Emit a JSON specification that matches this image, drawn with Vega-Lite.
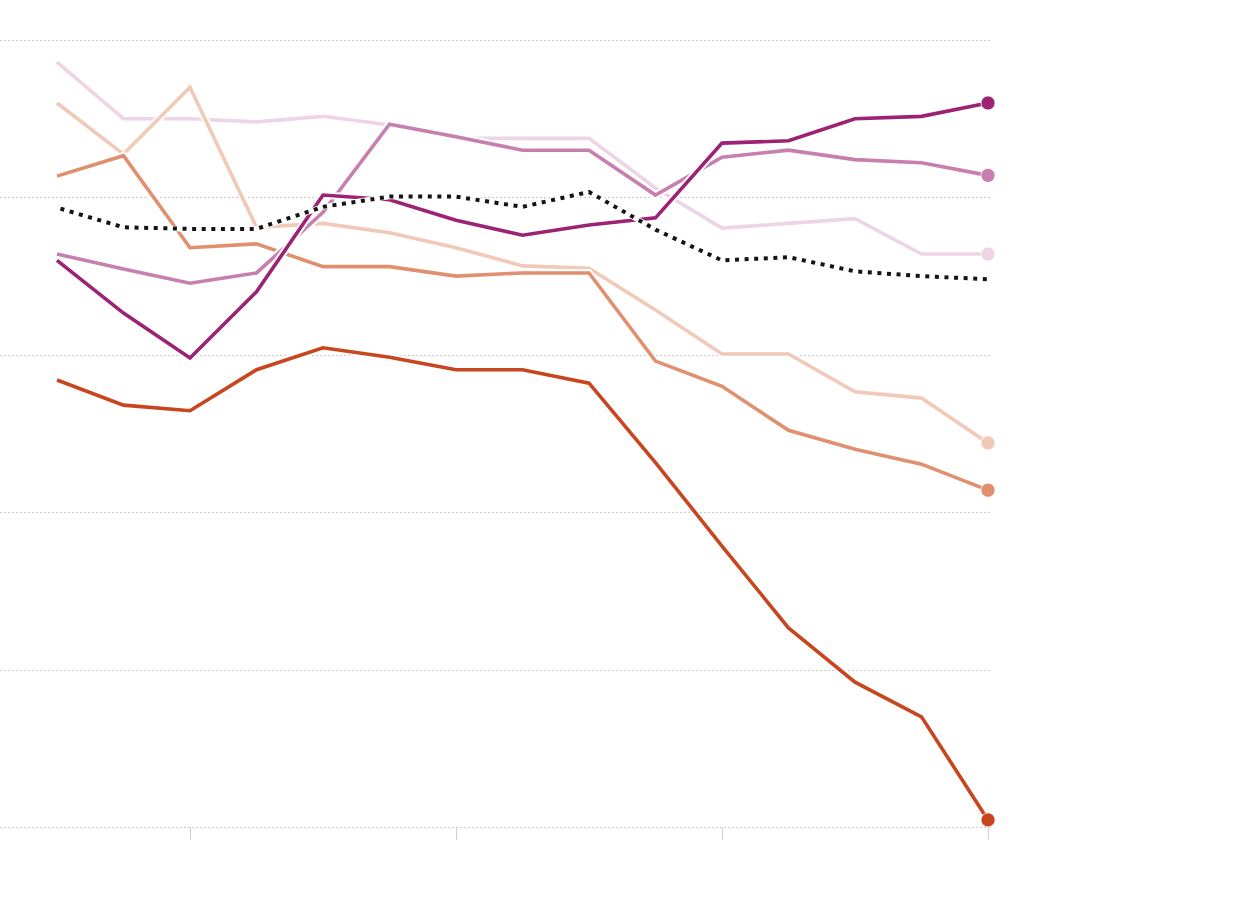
{
  "$schema": "https://vega.github.io/schema/vega-lite/v6.json",
  "width": 990,
  "height": 787,
  "autosize": {"type": "none"},
  "padding": {"left": 0, "top": 40, "right": 250, "bottom": 73},
  "background": "white",
  "config": {"view": {"stroke": null}},
  "data": {
    "values": [
      {"series": "A", "year": 2008, "value": 72.0}, {"series": "A", "year": 2009, "value": 65.3}, {"series": "A", "year": 2010, "value": 59.6},
      {"series": "A", "year": 2011, "value": 68.0}, {"series": "A", "year": 2012, "value": 80.3}, {"series": "A", "year": 2013, "value": 79.7},
      {"series": "A", "year": 2014, "value": 77.1}, {"series": "A", "year": 2015, "value": 75.2}, {"series": "A", "year": 2016, "value": 76.5},
      {"series": "A", "year": 2017, "value": 77.4}, {"series": "A", "year": 2018, "value": 86.9}, {"series": "A", "year": 2019, "value": 87.2},
      {"series": "A", "year": 2020, "value": 90.0}, {"series": "A", "year": 2021, "value": 90.3}, {"series": "A", "year": 2022, "value": 92.0},

      {"series": "B", "year": 2008, "value": 72.8}, {"series": "B", "year": 2009, "value": 70.9}, {"series": "B", "year": 2010, "value": 69.1},
      {"series": "B", "year": 2011, "value": 70.4}, {"series": "B", "year": 2012, "value": 78.1}, {"series": "B", "year": 2013, "value": 89.3},
      {"series": "B", "year": 2014, "value": 87.7}, {"series": "B", "year": 2015, "value": 86.0}, {"series": "B", "year": 2016, "value": 86.0},
      {"series": "B", "year": 2017, "value": 80.3}, {"series": "B", "year": 2018, "value": 85.1}, {"series": "B", "year": 2019, "value": 86.0},
      {"series": "B", "year": 2020, "value": 84.8}, {"series": "B", "year": 2021, "value": 84.4}, {"series": "B", "year": 2022, "value": 82.8},

      {"series": "C", "year": 2008, "value": 97.2}, {"series": "C", "year": 2009, "value": 90.0}, {"series": "C", "year": 2010, "value": 90.0},
      {"series": "C", "year": 2011, "value": 89.6}, {"series": "C", "year": 2012, "value": 90.3}, {"series": "C", "year": 2013, "value": 89.2},
      {"series": "C", "year": 2014, "value": 87.5}, {"series": "C", "year": 2015, "value": 87.5}, {"series": "C", "year": 2016, "value": 87.5},
      {"series": "C", "year": 2017, "value": 81.2}, {"series": "C", "year": 2018, "value": 76.1}, {"series": "C", "year": 2019, "value": 76.7},
      {"series": "C", "year": 2020, "value": 77.3}, {"series": "C", "year": 2021, "value": 72.8}, {"series": "C", "year": 2022, "value": 72.8},

      {"series": "D", "year": 2008, "value": 92.0}, {"series": "D", "year": 2009, "value": 85.5}, {"series": "D", "year": 2010, "value": 94.0},
      {"series": "D", "year": 2011, "value": 76.2}, {"series": "D", "year": 2012, "value": 76.7}, {"series": "D", "year": 2013, "value": 75.5},
      {"series": "D", "year": 2014, "value": 73.6}, {"series": "D", "year": 2015, "value": 71.3}, {"series": "D", "year": 2016, "value": 71.0},
      {"series": "D", "year": 2017, "value": 65.7}, {"series": "D", "year": 2018, "value": 60.1}, {"series": "D", "year": 2019, "value": 60.1},
      {"series": "D", "year": 2020, "value": 55.3}, {"series": "D", "year": 2021, "value": 54.5}, {"series": "D", "year": 2022, "value": 48.8},

      {"series": "E", "year": 2008, "value": 82.7}, {"series": "E", "year": 2009, "value": 85.3}, {"series": "E", "year": 2010, "value": 73.6},
      {"series": "E", "year": 2011, "value": 74.1}, {"series": "E", "year": 2012, "value": 71.2}, {"series": "E", "year": 2013, "value": 71.2},
      {"series": "E", "year": 2014, "value": 70.0}, {"series": "E", "year": 2015, "value": 70.4}, {"series": "E", "year": 2016, "value": 70.4},
      {"series": "E", "year": 2017, "value": 59.2}, {"series": "E", "year": 2018, "value": 56.0}, {"series": "E", "year": 2019, "value": 50.4},
      {"series": "E", "year": 2020, "value": 48.0}, {"series": "E", "year": 2021, "value": 46.1}, {"series": "E", "year": 2022, "value": 42.8},

      {"series": "F", "year": 2008, "value": 56.8}, {"series": "F", "year": 2009, "value": 53.6}, {"series": "F", "year": 2010, "value": 52.9},
      {"series": "F", "year": 2011, "value": 58.1}, {"series": "F", "year": 2012, "value": 60.9}, {"series": "F", "year": 2013, "value": 59.7},
      {"series": "F", "year": 2014, "value": 58.1}, {"series": "F", "year": 2015, "value": 58.1}, {"series": "F", "year": 2016, "value": 56.4},
      {"series": "F", "year": 2017, "value": 46.3}, {"series": "F", "year": 2018, "value": 35.7}, {"series": "F", "year": 2019, "value": 25.3},
      {"series": "F", "year": 2020, "value": 18.4}, {"series": "F", "year": 2021, "value": 14.0}, {"series": "F", "year": 2022, "value": 0.9},

      {"series": "Average", "year": 2008, "value": 78.7}, {"series": "Average", "year": 2009, "value": 76.2}, {"series": "Average", "year": 2010, "value": 76.0},
      {"series": "Average", "year": 2011, "value": 76.0}, {"series": "Average", "year": 2012, "value": 78.8}, {"series": "Average", "year": 2013, "value": 80.1},
      {"series": "Average", "year": 2014, "value": 80.1}, {"series": "Average", "year": 2015, "value": 78.8}, {"series": "Average", "year": 2016, "value": 80.7},
      {"series": "Average", "year": 2017, "value": 75.9}, {"series": "Average", "year": 2018, "value": 72.0}, {"series": "Average", "year": 2019, "value": 72.4},
      {"series": "Average", "year": 2020, "value": 70.6}, {"series": "Average", "year": 2021, "value": 70.0}, {"series": "Average", "year": 2022, "value": 69.6}
    ]
  },
  "encoding": {
    "x": {
      "field": "year",
      "type": "quantitative",
      "scale": {"domain": [2007.143, 2022.03], "nice": false, "zero": false},
      "axis": {"values": [2010, 2014, 2018, 2022], "labels": false, "title": null, "domain": false, "grid": false,
               "tickColor": "#cccccc", "tickSize": 12, "tickWidth": 1}
    },
    "y": {
      "field": "value",
      "type": "quantitative",
      "scale": {"domain": [0, 100], "nice": false},
      "axis": {"values": [0, 20, 40, 60, 80, 100], "labels": false, "ticks": false, "domain": false, "title": null,
               "grid": true, "gridColor": "#a6a6a6", "gridDash": [1.2, 2.8], "gridWidth": 1}
    }
  },
  "layer": [
    {"transform": [{"filter": "datum.series === 'C'"}], "mark": {"type": "line", "stroke": "white", "strokeWidth": 7.5}},
    {"transform": [{"filter": "datum.series === 'C'"}], "mark": {"type": "line", "stroke": "#edd5e5", "strokeWidth": 3.6}},
    {"transform": [{"filter": "datum.series === 'D'"}], "mark": {"type": "line", "stroke": "white", "strokeWidth": 7.5}},
    {"transform": [{"filter": "datum.series === 'D'"}], "mark": {"type": "line", "stroke": "#f1c9b8", "strokeWidth": 3.6}},
    {"transform": [{"filter": "datum.series === 'E'"}], "mark": {"type": "line", "stroke": "white", "strokeWidth": 7.5}},
    {"transform": [{"filter": "datum.series === 'E'"}], "mark": {"type": "line", "stroke": "#e0906f", "strokeWidth": 3.6}},
    {"transform": [{"filter": "datum.series === 'B'"}], "mark": {"type": "line", "stroke": "white", "strokeWidth": 7.5}},
    {"transform": [{"filter": "datum.series === 'B'"}], "mark": {"type": "line", "stroke": "#c67fae", "strokeWidth": 3.6}},
    {"transform": [{"filter": "datum.series === 'A'"}], "mark": {"type": "line", "stroke": "white", "strokeWidth": 7.5}},
    {"transform": [{"filter": "datum.series === 'A'"}], "mark": {"type": "line", "stroke": "#9c2274", "strokeWidth": 3.6}},
    {"transform": [{"filter": "datum.series === 'F'"}], "mark": {"type": "line", "stroke": "white", "strokeWidth": 7.5}},
    {"transform": [{"filter": "datum.series === 'F'"}], "mark": {"type": "line", "stroke": "#c8461f", "strokeWidth": 3.6}},
    {"transform": [{"filter": "datum.series === 'Average'"}], "mark": {"type": "line", "stroke": "white", "strokeWidth": 5.5}},
    {"transform": [{"filter": "datum.series === 'Average'"}],
     "mark": {"type": "line", "stroke": "#141414", "strokeWidth": 4, "strokeDash": [4, 5.6], "strokeDashOffset": 6}},
    {
      "transform": [{"filter": "datum.year === 2022 && datum.series !== 'Average'"}],
      "mark": {"type": "circle", "size": 200, "opacity": 1, "stroke": "white", "strokeWidth": 0.8},
      "encoding": {
        "color": {
          "field": "series",
          "type": "nominal",
          "legend": null,
          "scale": {"domain": ["A", "B", "C", "D", "E", "F"],
                    "range": ["#9c2274", "#c67fae", "#edd5e5", "#f1c9b8", "#e0906f", "#c8461f"]}
        }
      }
    }
  ]
}
